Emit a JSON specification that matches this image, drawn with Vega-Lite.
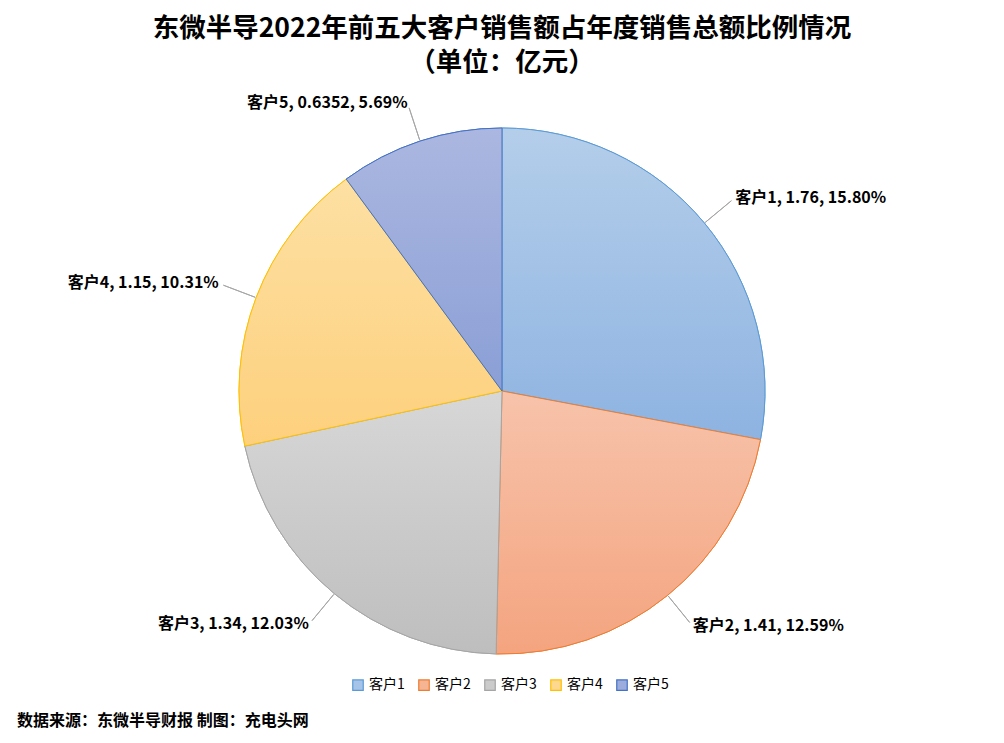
{
  "$schema": "https://vega.github.io/schema/vega-lite/v6.json",
  "padding": {"top": 15, "left": 0, "right": 0, "bottom": 14},
  "background": "white",
  "title": {
    "text": ["东微半导2022年前五大客户销售额占年度销售总额比例情况", "（单位：亿元）"],
    "font": "Noto Sans CJK SC",
    "fontSize": 26.5,
    "fontWeight": "bold",
    "color": "#000000",
    "lineHeight": 34,
    "anchor": "middle",
    "offset": 19
  },
  "resolve": {"legend": {"fill": "independent", "stroke": "independent"}},
  "vconcat": [
    {
      "width": 1004,
      "height": 582,
      "title": {
        "text": "数据来源：东微半导财报 制图：充电头网",
        "orient": "bottom",
        "anchor": "start",
        "dx": 17,
        "offset": 20,
        "font": "Noto Sans CJK SC",
        "fontSize": 16,
        "fontWeight": "bold",
        "color": "#000000"
      },
      "data": {
        "values": [
          {"customer": "客户1", "value": 1.76, "label": "客户1, 1.76, 15.80%"},
          {"customer": "客户2", "value": 1.41, "label": "客户2, 1.41, 12.59%"},
          {"customer": "客户3", "value": 1.34, "label": "客户3, 1.34, 12.03%"},
          {"customer": "客户4", "value": 1.15, "label": "客户4, 1.15, 10.31%"},
          {"customer": "客户5", "value": 0.6352, "label": "客户5, 0.6352, 5.69%"}
        ]
      },
      "layer": [
        {
          "mark": {"type": "arc", "radius": 263, "strokeWidth": 1},
          "encoding": {
            "theta": {"field": "value", "type": "quantitative", "stack": true},
            "fill": {
              "field": "customer",
              "type": "nominal",
              "scale": {"range": ["#a6c4e8", "#f5b494", "#cbcbcb", "#fdd88e", "#9cacdc"]},
              "legend": {
                "title": null,
                "orient": "none",
                "legendX": 351,
                "legendY": 578,
                "direction": "horizontal",
                "symbolType": "square",
                "symbolSize": 110,
                "symbolStrokeWidth": 1.2,
                "labelFont": "Noto Sans CJK SC",
                "labelFontSize": 14,
                "labelColor": "#000000",
                "labelOffset": 4,
                "columnPadding": 11
              }
            },
            "stroke": {
              "field": "customer",
              "type": "nominal",
              "scale": {"range": ["#5b9bd5", "#ed7d31", "#a5a5a5", "#ffc000", "#4472c4"]}
            }
          }
        },
        {
          "mark": {"type": "arc", "radius": 263, "strokeWidth": 1},
          "encoding": {
            "theta": {"field": "value", "type": "quantitative", "stack": true},
            "order": {"field": "customer"},
            "fill": {
              "condition": [
                {"test": "datum.customer === '客户1'", "value": {"gradient": "linear", "x1": 0, "y1": 0, "x2": 0, "y2": 1, "stops": [{"offset": 0, "color": "#b4ceea"}, {"offset": 1, "color": "#8eb3e1"}]}},
                {"test": "datum.customer === '客户2'", "value": {"gradient": "linear", "x1": 0, "y1": 0, "x2": 0, "y2": 1, "stops": [{"offset": 0, "color": "#f7c3ab"}, {"offset": 1, "color": "#f4a47f"}]}},
                {"test": "datum.customer === '客户3'", "value": {"gradient": "linear", "x1": 0, "y1": 0, "x2": 0, "y2": 1, "stops": [{"offset": 0, "color": "#d7d7d7"}, {"offset": 1, "color": "#bebebe"}]}},
                {"test": "datum.customer === '客户4'", "value": {"gradient": "linear", "x1": 0, "y1": 0, "x2": 0, "y2": 1, "stops": [{"offset": 0, "color": "#fde0a3"}, {"offset": 1, "color": "#fdd07d"}]}},
                {"test": "datum.customer === '客户5'", "value": {"gradient": "linear", "x1": 0, "y1": 0, "x2": 0, "y2": 1, "stops": [{"offset": 0, "color": "#abb7e0"}, {"offset": 1, "color": "#8b9fd6"}]}}
              ],
              "value": "#cccccc"
            },
            "stroke": {
              "condition": [
                {"test": "datum.customer === '客户1'", "value": "#5b9bd5"},
                {"test": "datum.customer === '客户2'", "value": "#ed7d31"},
                {"test": "datum.customer === '客户3'", "value": "#a5a5a5"},
                {"test": "datum.customer === '客户4'", "value": "#ffc000"}
              ],
              "value": "#4472c4"
            }
          }
        },
        {
          "mark": {"type": "arc", "radius": 298, "radius2": 264, "padAngle": 3.1, "filled": false, "stroke": "#a6a6a6", "strokeWidth": 1},
          "encoding": {
            "theta": {"field": "value", "type": "quantitative", "stack": true},
            "order": {"field": "customer"}
          }
        },
        {
          "mark": {
            "type": "text",
            "radius": 303,
            "font": "Noto Sans CJK SC",
            "fontSize": 16,
            "fontWeight": "bold",
            "color": "#000000",
            "baseline": "middle",
            "align": {"expr": "datum.customer === '客户1' || datum.customer === '客户2' ? 'left' : 'right'"}
          },
          "encoding": {
            "theta": {"field": "value", "type": "quantitative", "stack": true},
            "order": {"field": "customer"},
            "text": {"field": "label"}
          }
        }
      ]
    }
  ],
  "config": {"view": {"stroke": null}}
}
